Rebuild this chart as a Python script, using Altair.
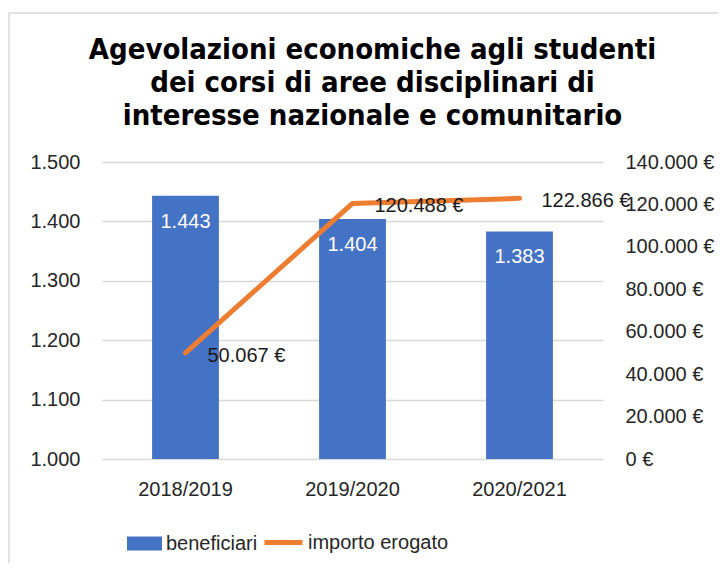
import altair as alt
import pandas as pd

anni = ["2018/2019", "2019/2020", "2020/2021"]
beneficiari = [1443, 1404, 1383]
importo = [50067, 120488, 122866]
titolo = ["Agevolazioni economiche agli studenti",
          "dei corsi di aree disciplinari di",
          "interesse nazionale e comunitario"]
serie = ["beneficiari", "importo erogato"]

df = pd.DataFrame({
    "anno": anni,
    "beneficiari": beneficiari,
    "importo": importo,
    "s1": [serie[0]] * 3,
    "s2": [serie[1]] * 3,
})

BLUE = "#4472C4"
ORANGE = "#ED7D31"
FONT = "Liberation Sans"
W, H = 501, 297

xenc = alt.X("anno:N", sort=anni, title=None,
             scale=alt.Scale(paddingInner=0.6, paddingOuter=0.3),
             axis=alt.Axis(domain=False, ticks=False, labelAngle=0, labelPadding=20,
                           labelFont=FONT, labelFontSize=20, labelColor="#262626"))

base = alt.Chart(df)

ylab = "replace(format(datum.value, ',d'), ',', '.')"

bars = base.mark_bar(color=BLUE, clip=True).encode(
    x=xenc,
    y=alt.Y("beneficiari:Q", title=None,
            scale=alt.Scale(domain=[1000, 1500], zero=False, nice=False),
            axis=alt.Axis(values=[1000, 1100, 1200, 1300, 1400, 1500], labelExpr=ylab,
                          domain=False, ticks=False, labelPadding=22, gridColor="#d9d9d9",
                          gridWidth=1.5, labelFont=FONT, labelFontSize=20,
                          labelColor="#262626")),
    fill=alt.Fill("s1:N", title=None, scale=alt.Scale(range=[BLUE]),
                  legend=alt.Legend(orient="none", legendX=25, legendY=364,
                                    symbolType="M-1,-0.4H1V0.4H-1Z", symbolSize=1225,
                                    symbolStrokeWidth=0, labelFont=FONT, labelFontSize=20,
                                    labelColor="#262626", labelOffset=4, padding=0)),
)

bartext = base.transform_calculate(
    lab="replace(format(datum.beneficiari, ',d'), ',', '.')"
).mark_text(color="white", font=FONT, fontSize=20, baseline="middle", dy=26).encode(
    x=alt.X("anno:N", sort=anni),
    y=alt.Y("beneficiari:Q"),
    text="lab:N",
)

left = alt.layer(bars, bartext)

line = base.mark_line(strokeWidth=5, strokeCap="round", strokeJoin="round").encode(
    x=alt.X("anno:N", sort=anni),
    y=alt.Y("importo:Q", title=None,
            scale=alt.Scale(domain=[0, 140000], nice=False),
            axis=alt.Axis(orient="right", values=[0, 20000, 40000, 60000, 80000, 100000, 120000, 140000],
                          labelExpr="replace(format(datum.value, ',d'), ',', '.') + ' €'",
                          grid=False, domain=False, ticks=False, labelPadding=22,
                          labelFont=FONT, labelFontSize=20, labelColor="#262626")),
    stroke=alt.Stroke("s2:N", title=None, scale=alt.Scale(range=[ORANGE]),
                      legend=alt.Legend(orient="none", legendX=160, legendY=359,
                                        symbolType="stroke", symbolSize=1444,
                                        symbolStrokeWidth=5, labelFont=FONT, labelFontSize=20,
                                        labelColor="#262626", labelOffset=3, padding=0)),
)

linetext = base.transform_calculate(
    lab="replace(format(datum.importo, ',d'), ',', '.') + ' €'"
).mark_text(color="#1a1a1a", font=FONT, fontSize=20, align="left", baseline="middle",
            dx=22, dy=3).encode(
    x=alt.X("anno:N", sort=anni),
    y=alt.Y("importo:Q"),
    text="lab:N",
)

right = alt.layer(line, linetext)

frame = alt.Chart(pd.DataFrame({"k": [0]})).mark_rect(
    fillOpacity=0, stroke="#d9d9d9", strokeWidth=1.5, clip=False
).encode(x=alt.value(-93), x2=alt.value(640), y=alt.value(-149), y2=alt.value(420))

chart = alt.layer(frame, left, right).resolve_scale(
    y="independent", fill="independent", stroke="independent"
).properties(
    width=W, height=H,
    autosize=alt.AutoSizeParams(type="none"),
    padding={"left": 94, "top": 154, "right": 115, "bottom": 104},
    title=alt.TitleParams(text=titolo, font="DejaVu Sans Condensed", fontSize=29,
                          fontWeight="bold", color="#000000", anchor="middle",
                          frame="group", dx=20, offset=-119, lineHeight=33),
).configure_view(stroke=None)

chart.save("out.html", embed_options={"renderer": "svg", "actions": False})
